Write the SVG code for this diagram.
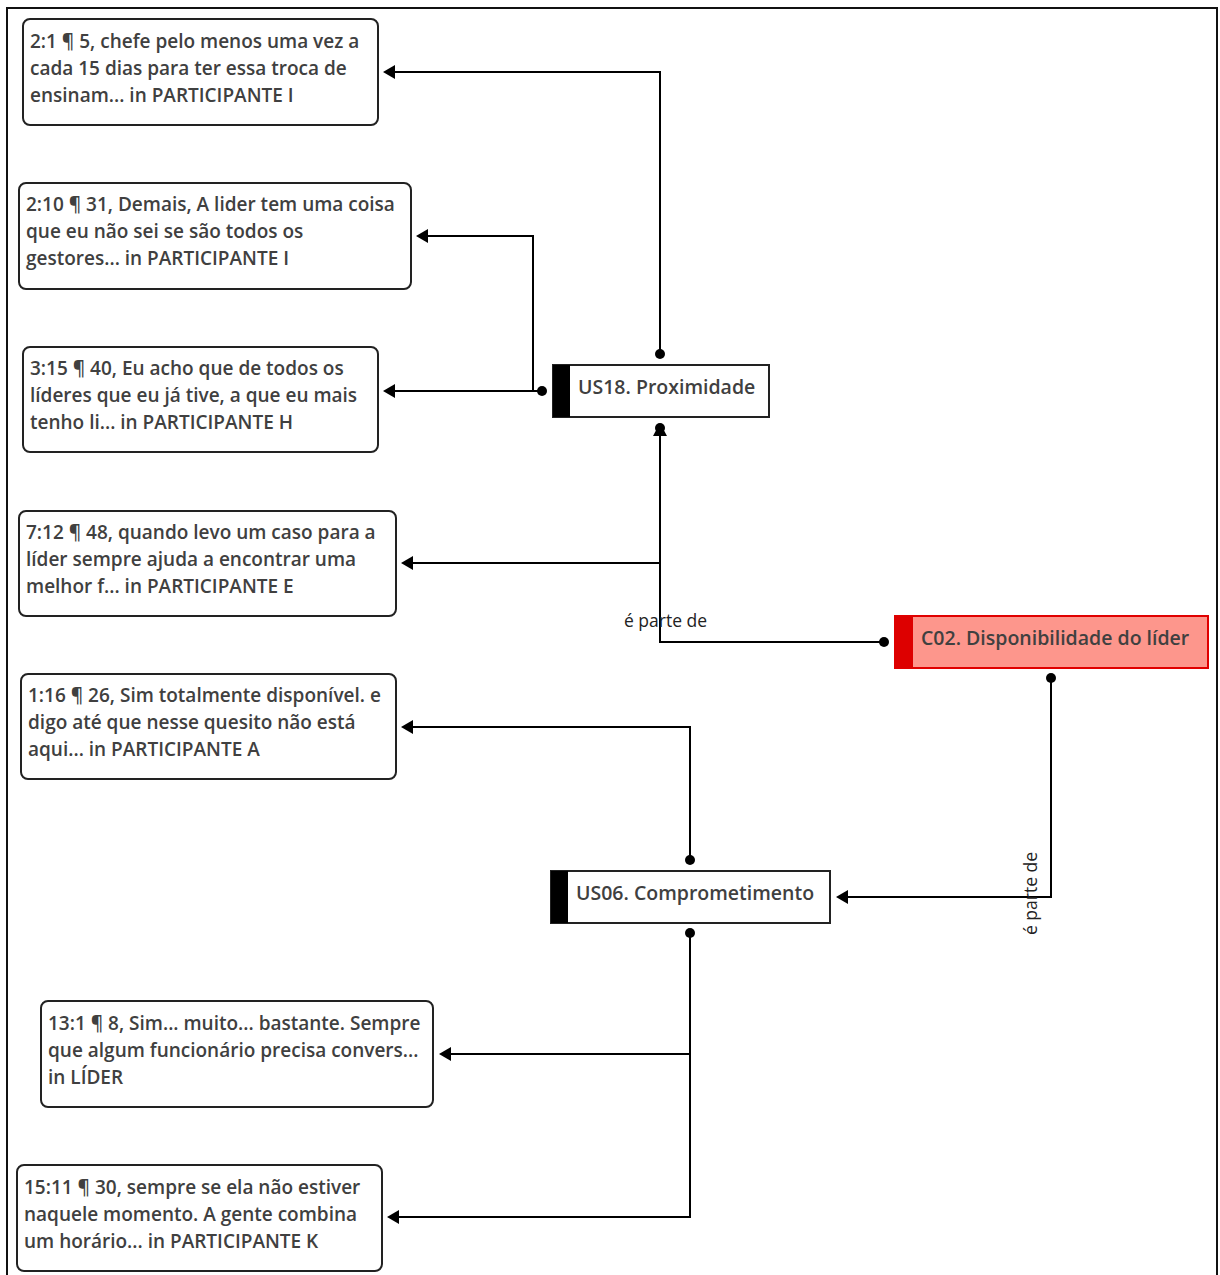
<svg xmlns="http://www.w3.org/2000/svg" width="1220" height="1275" viewBox="0 0 1220 1275">
  <style>
    .quote rect { fill: #ffffff; stroke: #222222; stroke-width: 2; }
    .quote text { font-family: "Open Sans", "Noto Sans", sans-serif; font-size: 19px; font-weight: 600; fill: #404040; }
    .code rect.body { fill: #ffffff; stroke: #222222; stroke-width: 2; }
    .code rect.bar { fill: #000000; }
    .code text { font-family: "Open Sans", "Noto Sans", sans-serif; font-size: 19.5px; font-weight: 600; fill: #404040; }
    .cat rect.body { fill: #fd968c; stroke: #e00000; stroke-width: 2; }
    .cat rect.bar { fill: #dd0000; }
    .wire { fill: none; stroke: #000000; stroke-width: 2; }
    .dot { fill: #000000; }
    .head { fill: #000000; }
    .lbl { font-family: "Open Sans", "Noto Sans", sans-serif; font-size: 17.5px; fill: #222222; }
  </style>

  <!-- outer frame -->
  <rect x="7" y="8" width="1210" height="1280" fill="#ffffff" stroke="#111111" stroke-width="2"/>

  <!-- connectors -->
  <g id="connectors">
    <!-- US18 -> quote 2:1 -->
    <polyline class="wire" points="660,354 660,72 394,72"/>
    <polygon class="head" points="383,72 395,65 395,79"/>
    <circle class="dot" cx="660" cy="354" r="5"/>
    <!-- US18 -> quotes 2:10 and 3:15 -->
    <polyline class="wire" points="542,391 394,391"/>
    <polygon class="head" points="383,391 395,384 395,398"/>
    <polyline class="wire" points="533,391 533,236 427,236"/>
    <polygon class="head" points="416,236 428,229 428,243"/>
    <circle class="dot" cx="542" cy="391" r="5"/>
    <!-- C02 -> US18 (é parte de), branch to quote 7:12 -->
    <polyline class="wire" points="884,642 660,642 660,436"/>
    <polygon class="head" points="660,423 653,436 667,436"/>
    <circle class="dot" cx="660" cy="428" r="5"/>
    <polyline class="wire" points="660,563 412,563"/>
    <polygon class="head" points="401,563 413,556 413,570"/>
    <circle class="dot" cx="884" cy="642" r="5"/>
    <text class="lbl" x="624" y="627">é parte de</text>
    <!-- US06 -> quote 1:16 -->
    <polyline class="wire" points="690,860 690,727 412,727"/>
    <polygon class="head" points="401,727 413,720 413,734"/>
    <circle class="dot" cx="690" cy="860" r="5"/>
    <!-- C02 -> US06 (é parte de) -->
    <polyline class="wire" points="1051,678 1051,897 847,897"/>
    <polygon class="head" points="836,897 848,890 848,904"/>
    <circle class="dot" cx="1051" cy="678" r="5"/>
    <text class="lbl" transform="translate(1037,935) rotate(-90)">é parte de</text>
    <!-- US06 -> quotes 13:1 and 15:11 -->
    <polyline class="wire" points="690,933 690,1217 398,1217"/>
    <polygon class="head" points="387,1217 399,1210 399,1224"/>
    <polyline class="wire" points="690,1054 450,1054"/>
    <polygon class="head" points="439,1054 451,1047 451,1061"/>
    <circle class="dot" cx="690" cy="933" r="5"/>
  </g>

  <!-- quotations -->
  <g id="q-2-1" class="quote">
    <rect x="23" y="19" width="355" height="106" rx="7"/>
    <text x="30" y="48">2:1 ¶ 5, chefe pelo menos uma vez a</text>
    <text x="30" y="75">cada 15 dias para ter essa troca de</text>
    <text x="30" y="102">ensinam... in PARTICIPANTE I</text>
  </g>
  <g id="q-2-10" class="quote">
    <rect x="19" y="183" width="392" height="106" rx="7"/>
    <text x="26" y="211">2:10 ¶ 31, Demais, A lider tem uma coisa</text>
    <text x="26" y="238">que eu não sei se são todos os</text>
    <text x="26" y="265">gestores... in PARTICIPANTE I</text>
  </g>
  <g id="q-3-15" class="quote">
    <rect x="23" y="347" width="355" height="105" rx="7"/>
    <text x="30" y="375">3:15 ¶ 40, Eu acho que de todos os</text>
    <text x="30" y="402">líderes que eu já tive, a que eu mais</text>
    <text x="30" y="429">tenho li... in PARTICIPANTE H</text>
  </g>
  <g id="q-7-12" class="quote">
    <rect x="19" y="511" width="377" height="105" rx="7"/>
    <text x="26" y="539">7:12 ¶ 48, quando levo um caso para a</text>
    <text x="26" y="566">líder sempre ajuda a encontrar uma</text>
    <text x="26" y="593">melhor f... in PARTICIPANTE E</text>
  </g>
  <g id="q-1-16" class="quote">
    <rect x="21" y="674" width="375" height="105" rx="7"/>
    <text x="28" y="702">1:16 ¶ 26, Sim totalmente disponível. e</text>
    <text x="28" y="729">digo até que nesse quesito não está</text>
    <text x="28" y="756">aqui... in PARTICIPANTE A</text>
  </g>
  <g id="q-13-1" class="quote">
    <rect x="41" y="1001" width="392" height="106" rx="7"/>
    <text x="48" y="1030">13:1 ¶ 8, Sim... muito... bastante. Sempre</text>
    <text x="48" y="1057">que algum funcionário precisa convers...</text>
    <text x="48" y="1084">in LÍDER</text>
  </g>
  <g id="q-15-11" class="quote">
    <rect x="17" y="1165" width="365" height="106" rx="7"/>
    <text x="24" y="1194">15:11 ¶ 30, sempre se ela não estiver</text>
    <text x="24" y="1221">naquele momento. A gente combina</text>
    <text x="24" y="1248">um horário... in PARTICIPANTE K</text>
  </g>

  <!-- codes -->
  <g id="us18" class="code">
    <rect class="body" x="553" y="365" width="216" height="52"/>
    <rect class="bar" x="553" y="365" width="17" height="52"/>
    <text x="578" y="394">US18. Proximidade</text>
  </g>
  <g id="us06" class="code">
    <rect class="body" x="551" y="871" width="279" height="52"/>
    <rect class="bar" x="551" y="871" width="17" height="52"/>
    <text x="576" y="900">US06. Comprometimento</text>
  </g>
  <g id="c02" class="code cat">
    <rect class="body" x="895" y="616" width="313" height="52"/>
    <rect class="bar" x="895" y="616" width="18" height="52"/>
    <text x="921" y="645">C02. Disponibilidade do líder</text>
  </g>
</svg>
